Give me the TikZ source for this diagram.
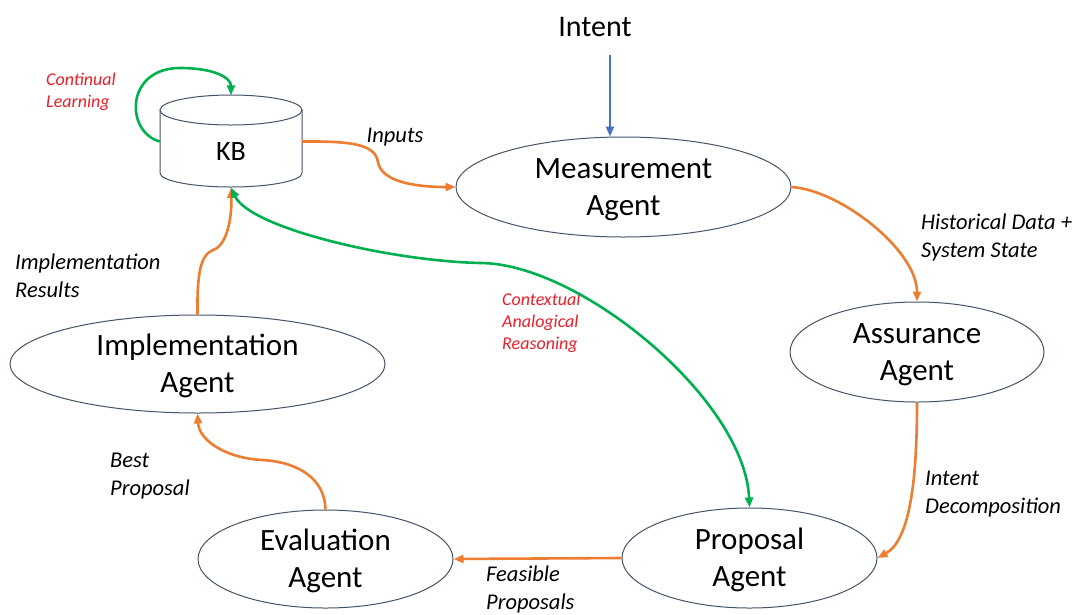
\documentclass[tikz,border=0pt]{standalone}
\usepackage{fontspec}
\setmainfont{Carlito}
\usetikzlibrary{shapes.geometric,arrows.meta,calc}
\definecolor{orng}{HTML}{ED7D31}
\definecolor{grn}{HTML}{00B050}
\definecolor{blu}{HTML}{4472C4}
\definecolor{redtxt}{HTML}{E8202A}
\definecolor{edgec}{HTML}{44546A}
\newcommand{\topstrut}{\rule{0pt}{26pt}}
\begin{document}
\begin{tikzpicture}[x=1pt,y=-1pt,
  agent/.style={ellipse, draw=edgec, line width=1pt, fill=white, inner sep=0pt, align=center,
    font=\fontsize{31}{37}\selectfont},
  lbl/.style={anchor=west, align=left, inner sep=0pt, font=\fontsize{22.5}{28}\selectfont\itshape},
  redlbl/.style={anchor=west, align=left, inner sep=0pt, text=redtxt, font=\fontsize{18}{22}\selectfont\itshape},
  tipo/.style={-{Triangle[length=10pt,width=8pt]}},
  oarr/.style={draw=orng, line width=2.6pt, tipo},
  garr/.style={draw=grn, line width=2.6pt},
  barr/.style={draw=blu, line width=2pt, tipo},
  outline/.style={draw=edgec, line width=1pt}
]
\useasboundingbox (0,0) rectangle (1078,614);
\fill[white] (0,0) rectangle (1078,614);

% KB cylinder body
\draw[outline, fill=white] (160,110) -- (160,173)
  arc[start angle=180,end angle=360,x radius=71pt,y radius=14pt] -- (302,110) -- cycle;
\draw[outline, fill=white] (231,110) ellipse [x radius=71pt, y radius=15pt];
\node[minimum width=142pt, minimum height=92pt, inner sep=0pt, text height=38pt, text depth=0pt,
  font=\fontsize{28}{32}\selectfont] (kb) at (231,141.5) {KB};

% agents
\node[agent, minimum width=335pt, minimum height=100pt] (meas) at (623.5,187) {\topstrut Measurement\\Agent};
\node[agent, minimum width=254pt, minimum height=100pt] (assur) at (917,352) {\topstrut Assurance\\Agent};
\node[agent, minimum width=255pt, minimum height=100pt] (prop) at (749.5,558) {\topstrut Proposal\\Agent};
\node[agent, minimum width=255pt, minimum height=98pt] (eval) at (325.5,559) {\topstrut Evaluation\\Agent};
\node[agent, minimum width=375pt, minimum height=98pt] (impl) at (197.5,364) {\topstrut Implementation\\Agent};

% intent
\node[font=\fontsize{30}{37}\selectfont] (intent) at (595,27) {Intent};
\coordinate (intentarr) at (610,55);
\draw[barr] (intentarr) -- (intentarr |- meas.north);

% labels
\node[redlbl] (lcl) at (46,92) {Continual\\Learning};
\node[lbl, anchor=center] (linp) at (395,137) {Inputs};
\node[lbl] (lhist) at (921,237) {Historical Data +\\System State};
\node[lbl] (limpl) at (15,276) {Implementation\\Results};
\node[redlbl] (lctx) at (502,323) {Contextual\\Analogical\\Reasoning};
\node[lbl] (lbest) at (110,476) {Best\\Proposal};
\node[lbl] (lintd) at (925,494) {Intent\\Decomposition};
\node[lbl] (lfeas) at (486,589) {Feasible\\Proposals};

% connectors
\draw[garr, tipo] (kb.west) .. controls (125,132) and (125,68) .. (180,68)
  .. controls (215,68) and (231,78) .. (kb.north);
\draw[oarr] (kb.east) .. controls (355,141) and (375,145) .. (378,162)
  .. controls (381,180) and (410,187) .. (meas.west);
\draw[oarr] (meas.east) .. controls (840,190) and (917,250) .. (assur.north);
\draw[oarr] (assur.south) .. controls (917,480) and (910,540) .. (prop.east);
\draw[oarr] (prop.west) -- (eval.east);
\draw[oarr] (eval.north) .. controls (325,480) and (300,462) .. (262,460)
  .. controls (225,458) and (199,440) .. (impl.south);
\draw[oarr] (impl.north) .. controls (197,275) and (200,255) .. (213,250)
  .. controls (228,245) and (232,215) .. (kb.south);
\draw[garr, {Triangle[length=10pt,width=8pt]}-{Triangle[length=10pt,width=8pt]}]
  (kb.south) .. controls (250,228) and (390,261) .. (480,263)
  .. controls (580,263) and (745,400) .. (prop.north);
\end{tikzpicture}
\end{document}
